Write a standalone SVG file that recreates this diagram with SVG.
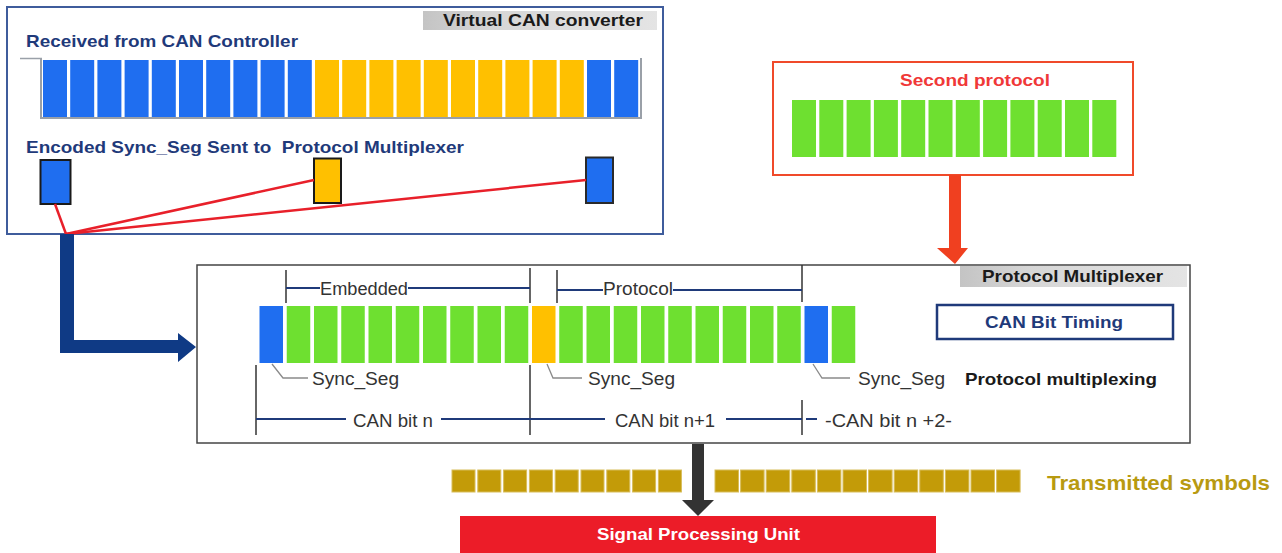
<svg xmlns="http://www.w3.org/2000/svg" width="1282" height="553" viewBox="0 0 1282 553">
<defs>
<linearGradient id="tab" x1="0" y1="0" x2="1" y2="0">
<stop offset="0" stop-color="#c4c4c4"/>
<stop offset="0.3" stop-color="#d6d6d6"/>
<stop offset="1" stop-color="#e4e4e4"/>
</linearGradient>
<style>
text{font-family:"Liberation Sans",Arial,sans-serif}
.b{font-weight:bold}
.navy{fill:#1f3a7a}
.blk{fill:#1a1a1a}
.reg{fill:#333;font-size:18px}
.blue{fill:#1f6ef0}
.yel{fill:#ffc000}
.grn{fill:#6ee030}
.gold{fill:#c39b08;stroke:#d8bd5a;stroke-width:1}
.tick{stroke:#333;stroke-width:1.5;fill:none}
.dim{stroke:#1f3a7a;stroke-width:2;fill:none}
.lead{stroke:#8a8a8a;stroke-width:1.3;fill:none}
.red{stroke:#e8202a;stroke-width:2.5;fill:none}
</style>
</defs>
<rect width="1282" height="553" fill="#ffffff"/>

<g id="virtual-can-converter">
<rect x="7" y="7" width="656" height="227" fill="#ffffff" stroke="#3f5c9c" stroke-width="2"/>
<rect x="423" y="11" width="234" height="19" fill="url(#tab)"/>
<text class="b blk" x="443" y="26" font-size="17" textLength="200" lengthAdjust="spacingAndGlyphs">Virtual CAN converter</text>
<text class="b navy" x="26" y="47" font-size="17" textLength="272" lengthAdjust="spacingAndGlyphs">Received from CAN Controller</text>
<line x1="20" y1="58.5" x2="42" y2="58.5" stroke="#9aa0a8" stroke-width="1.5"/>
<rect x="40" y="58" width="602" height="61" fill="#9aa0a8"/>
<rect x="42" y="58" width="598" height="59" fill="#ffffff"/>
<g>
<rect class="blue" x="43" y="60" width="24" height="57"/>
<rect class="blue" x="70.2" y="60" width="24" height="57"/>
<rect class="blue" x="97.4" y="60" width="24" height="57"/>
<rect class="blue" x="124.6" y="60" width="24" height="57"/>
<rect class="blue" x="151.8" y="60" width="24" height="57"/>
<rect class="blue" x="179" y="60" width="24" height="57"/>
<rect class="blue" x="206.2" y="60" width="24" height="57"/>
<rect class="blue" x="233.4" y="60" width="24" height="57"/>
<rect class="blue" x="260.6" y="60" width="24" height="57"/>
<rect class="blue" x="287.8" y="60" width="24" height="57"/>
<rect class="yel" x="315" y="60" width="24" height="57"/>
<rect class="yel" x="342.2" y="60" width="24" height="57"/>
<rect class="yel" x="369.4" y="60" width="24" height="57"/>
<rect class="yel" x="396.6" y="60" width="24" height="57"/>
<rect class="yel" x="423.8" y="60" width="24" height="57"/>
<rect class="yel" x="451" y="60" width="24" height="57"/>
<rect class="yel" x="478.2" y="60" width="24" height="57"/>
<rect class="yel" x="505.4" y="60" width="24" height="57"/>
<rect class="yel" x="532.6" y="60" width="24" height="57"/>
<rect class="yel" x="559.8" y="60" width="24" height="57"/>
<rect class="blue" x="587" y="60" width="24" height="57"/>
<rect class="blue" x="614.2" y="60" width="24" height="57"/>
</g>
<text class="b navy" x="26" y="153" font-size="17" textLength="438" lengthAdjust="spacingAndGlyphs">Encoded Sync_Seg Sent to &#160;Protocol Multiplexer</text>
<rect class="blue" x="40.5" y="160" width="30" height="44" stroke="#1a1a1a" stroke-width="2"/>
<rect class="yel" x="314" y="158.5" width="27" height="44.5" stroke="#1a1a1a" stroke-width="2"/>
<rect class="blue" x="586" y="157.5" width="27" height="45.5" stroke="#2a2a2a" stroke-width="2"/>
</g>

<g id="second-protocol">
<rect x="773" y="62" width="360" height="113" fill="#ffffff" stroke="#f04a2a" stroke-width="2"/>
<text class="b" x="900" y="86" font-size="17" fill="#f03838" textLength="150" lengthAdjust="spacingAndGlyphs">Second protocol</text>
<rect class="grn" x="792" y="100" width="24" height="57"/>
<rect class="grn" x="819.3" y="100" width="24" height="57"/>
<rect class="grn" x="846.6" y="100" width="24" height="57"/>
<rect class="grn" x="873.9" y="100" width="24" height="57"/>
<rect class="grn" x="901.2" y="100" width="24" height="57"/>
<rect class="grn" x="928.5" y="100" width="24" height="57"/>
<rect class="grn" x="955.8" y="100" width="24" height="57"/>
<rect class="grn" x="983.1" y="100" width="24" height="57"/>
<rect class="grn" x="1010.4" y="100" width="24" height="57"/>
<rect class="grn" x="1037.7" y="100" width="24" height="57"/>
<rect class="grn" x="1065" y="100" width="24" height="57"/>
<rect class="grn" x="1092.3" y="100" width="24" height="57"/>
</g>

<g id="protocol-multiplexer">
<rect x="197" y="265" width="993" height="178" fill="#ffffff" stroke="#444" stroke-width="1.5"/>
<rect x="960" y="266" width="227" height="21" fill="url(#tab)"/>
<text class="b blk" x="982" y="282" font-size="17" textLength="181" lengthAdjust="spacingAndGlyphs">Protocol Multiplexer</text>
<rect x="937" y="305" width="236" height="34" fill="#ffffff" stroke="#1f3a7a" stroke-width="2.5"/>
<text class="b navy" x="985" y="328" font-size="17" textLength="138" lengthAdjust="spacingAndGlyphs">CAN Bit Timing</text>
<g>
<rect class="blue" x="259.5" y="306" width="23.5" height="57"/>
<rect class="grn" x="286.75" y="306" width="23.5" height="57"/>
<rect class="grn" x="314" y="306" width="23.5" height="57"/>
<rect class="grn" x="341.25" y="306" width="23.5" height="57"/>
<rect class="grn" x="368.5" y="306" width="23.5" height="57"/>
<rect class="grn" x="395.75" y="306" width="23.5" height="57"/>
<rect class="grn" x="423" y="306" width="23.5" height="57"/>
<rect class="grn" x="450.25" y="306" width="23.5" height="57"/>
<rect class="grn" x="477.5" y="306" width="23.5" height="57"/>
<rect class="grn" x="504.75" y="306" width="23.5" height="57"/>
<rect class="yel" x="532" y="306" width="23.5" height="57"/>
<rect class="grn" x="559.25" y="306" width="23.5" height="57"/>
<rect class="grn" x="586.5" y="306" width="23.5" height="57"/>
<rect class="grn" x="613.75" y="306" width="23.5" height="57"/>
<rect class="grn" x="641" y="306" width="23.5" height="57"/>
<rect class="grn" x="668.25" y="306" width="23.5" height="57"/>
<rect class="grn" x="695.5" y="306" width="23.5" height="57"/>
<rect class="grn" x="722.75" y="306" width="23.5" height="57"/>
<rect class="grn" x="750" y="306" width="23.5" height="57"/>
<rect class="grn" x="777.25" y="306" width="23.5" height="57"/>
<rect class="blue" x="804.5" y="306" width="23.5" height="57"/>
<rect class="grn" x="831.75" y="306" width="23.5" height="57"/>
</g>
<line class="tick" x1="286" y1="270" x2="286" y2="303"/>
<line class="tick" x1="530" y1="268" x2="530" y2="303"/>
<line class="tick" x1="557" y1="270" x2="557" y2="303"/>
<line class="tick" x1="802" y1="265" x2="802" y2="302"/>
<line class="dim" x1="286" y1="288" x2="320" y2="288"/>
<line class="dim" x1="408" y1="288" x2="530" y2="288"/>
<line class="dim" x1="557" y1="290" x2="603" y2="290"/>
<line class="dim" x1="673" y1="290" x2="802" y2="290"/>
<text class="reg" x="320" y="295" textLength="88" lengthAdjust="spacingAndGlyphs">Embedded</text>
<text class="reg" x="603" y="295" textLength="70" lengthAdjust="spacingAndGlyphs">Protocol</text>
<path class="lead" d="M272,364 L283,378 L308,378"/>
<path class="lead" d="M547,364 L553,378 L582,378"/>
<path class="lead" d="M813,364 L822,378 L850,378"/>
<text class="reg" x="312" y="385" textLength="87" lengthAdjust="spacingAndGlyphs">Sync_Seg</text>
<text class="reg" x="588" y="385" textLength="87" lengthAdjust="spacingAndGlyphs">Sync_Seg</text>
<text class="reg" x="858" y="385" textLength="87" lengthAdjust="spacingAndGlyphs">Sync_Seg</text>
<text class="b blk" x="965" y="385" font-size="17" textLength="192" lengthAdjust="spacingAndGlyphs">Protocol multiplexing</text>
<line class="tick" x1="256" y1="365" x2="256" y2="435"/>
<line class="tick" x1="530" y1="365" x2="530" y2="435"/>
<line class="tick" x1="802" y1="400" x2="802" y2="435"/>
<line class="dim" x1="256" y1="419" x2="346" y2="419"/>
<line class="dim" x1="441" y1="419" x2="530" y2="419"/>
<line class="dim" x1="530" y1="419" x2="605" y2="419"/>
<line class="dim" x1="726" y1="419" x2="802" y2="419"/>
<line class="dim" x1="806" y1="419" x2="817" y2="419"/>
<text class="reg" x="353" y="427" textLength="80" lengthAdjust="spacingAndGlyphs">CAN bit n</text>
<text class="reg" x="615" y="427" textLength="100" lengthAdjust="spacingAndGlyphs">CAN bit n+1</text>
<text class="reg" x="825" y="427" textLength="127" lengthAdjust="spacingAndGlyphs">-CAN bit n +2-</text>
</g>

<g id="transmitted-symbols">
<rect class="gold" x="452" y="470" width="23" height="22"/>
<rect class="gold" x="477.8" y="470" width="23" height="22"/>
<rect class="gold" x="503.6" y="470" width="23" height="22"/>
<rect class="gold" x="529.4" y="470" width="23" height="22"/>
<rect class="gold" x="555.2" y="470" width="23" height="22"/>
<rect class="gold" x="581" y="470" width="23" height="22"/>
<rect class="gold" x="606.8" y="470" width="23" height="22"/>
<rect class="gold" x="632.6" y="470" width="23" height="22"/>
<rect class="gold" x="658.4" y="470" width="23" height="22"/>
<rect class="gold" x="715" y="470" width="23.5" height="22"/>
<rect class="gold" x="740.6" y="470" width="23.5" height="22"/>
<rect class="gold" x="766.2" y="470" width="23.5" height="22"/>
<rect class="gold" x="791.8" y="470" width="23.5" height="22"/>
<rect class="gold" x="817.4" y="470" width="23.5" height="22"/>
<rect class="gold" x="843" y="470" width="23.5" height="22"/>
<rect class="gold" x="868.6" y="470" width="23.5" height="22"/>
<rect class="gold" x="894.2" y="470" width="23.5" height="22"/>
<rect class="gold" x="919.8" y="470" width="23.5" height="22"/>
<rect class="gold" x="945.4" y="470" width="23.5" height="22"/>
<rect class="gold" x="971" y="470" width="23.5" height="22"/>
<rect class="gold" x="996.6" y="470" width="23.5" height="22"/>
<text class="b" x="1047" y="490" font-size="21" fill="#b89a10" textLength="223" lengthAdjust="spacingAndGlyphs">Transmitted symbols</text>
</g>

<g id="signal-processing-unit">
<rect x="460" y="516" width="476" height="40" fill="#ec1c28"/>
<text class="b" x="597" y="540" font-size="17" fill="#ffffff" textLength="203" lengthAdjust="spacingAndGlyphs">Signal Processing Unit</text>
</g>

<g id="connectors">
<line class="red" x1="55" y1="204" x2="66" y2="234"/>
<line class="red" x1="314" y1="180" x2="66" y2="234"/>
<line class="red" x1="586" y1="180" x2="66" y2="234"/>
<polygon fill="#0f3a85" points="60,234 74,234 74,340 178,340 178,333 196,347 178,362 178,353 60,353"/>
<polygon fill="#f04020" points="949,175 961,175 961,248 968,248 955,264 937,248 949,248"/>
<polygon fill="#333333" points="692,444 704,444 704,500 714,500 698,516 682,500 692,500"/>
</g>
</svg>
